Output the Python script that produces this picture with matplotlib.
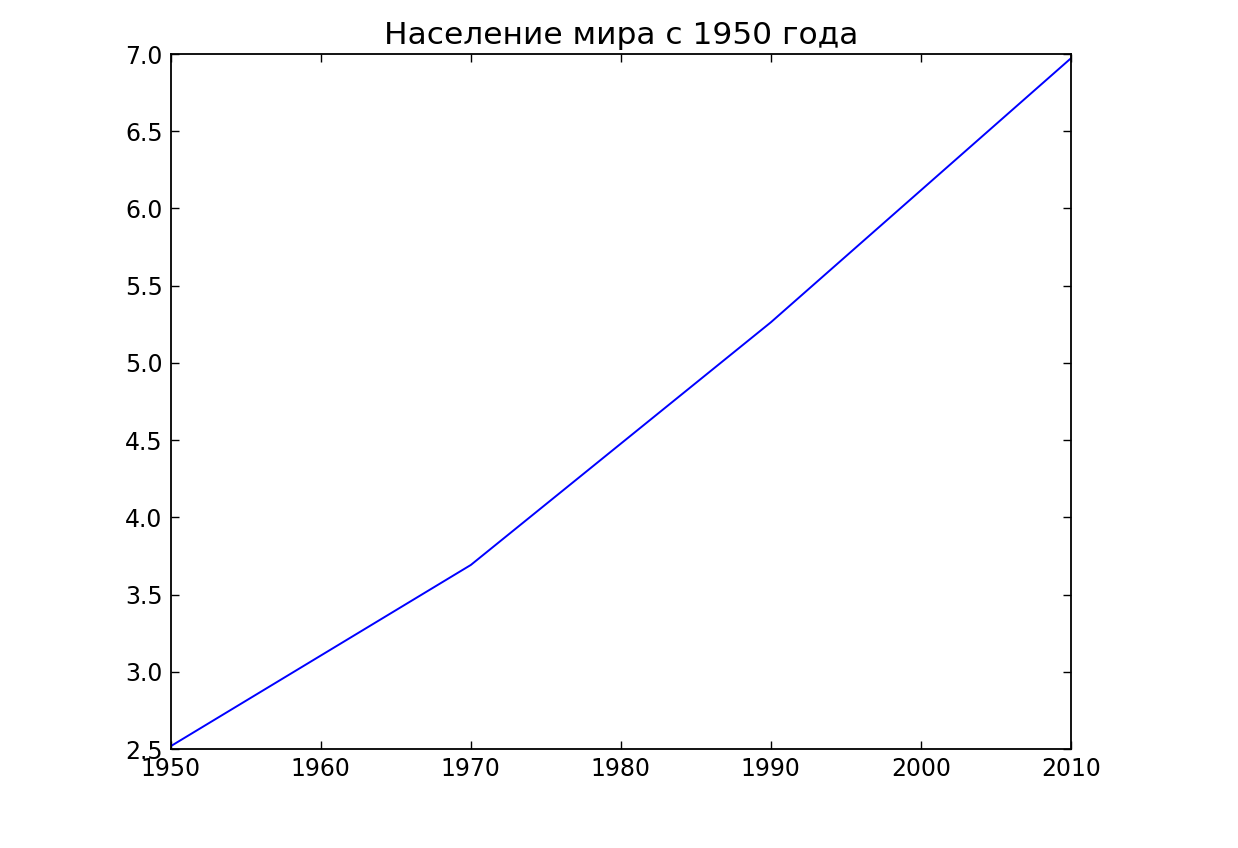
import matplotlib
matplotlib.use("Agg")
import matplotlib.pyplot as plt

years = [1950, 1970, 1990, 2010]
population = [2.519, 3.692, 5.263, 6.972]
title = "Население мира с 1950 года"

fig = plt.figure(figsize=(12.38, 8.48), dpi=100)
ax = fig.add_axes([0.138, 0.1167, 0.727, 0.8196])
ax.plot(years, population, color=(0, 0, 1), linewidth=1.4)
ax.set_xlim(1950, 2010)
ax.set_ylim(2.5, 7.0)
ax.set_xticks(range(1950, 2011, 10))
ax.set_yticks([2.5 + 0.5 * i for i in range(10)])
ax.set_yticklabels([f"{2.5 + 0.5 * i:.1f}" for i in range(10)])
ax.tick_params(direction="in", top=True, right=True, length=6, width=1, labelsize=17, pad=6)
for s in ax.spines.values():
    s.set_linewidth(1.3)
ax.set_title(title, fontsize=22.5, pad=7)
fig.savefig("out.png", dpi=100)
